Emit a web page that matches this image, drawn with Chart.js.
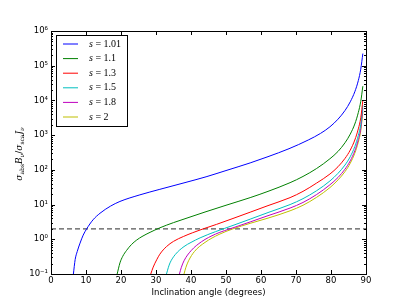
<!DOCTYPE html>
<html>
<head>
<meta charset="utf-8">
<script src="https://cdn.jsdelivr.net/npm/chart.js@4.4.0/dist/chart.umd.min.js"></script>
<style>
  body { margin: 0; background: #fff; }
  #wrap { width: 407px; height: 305px; }
</style>
</head>
<body>
<div id="wrap"><canvas id="grafico" width="407" height="305"></canvas></div>
<script>
// valores (angulo en grados, cociente)
const etiquetasS = ['1.01', '1.1', '1.3', '1.5', '1.8', '2'];

const angulosS101 = [6.4, 6.9, 7.5, 8.3, 9.2, 10.2, 12, 14, 17, 19.7, 25.4, 31.1, 38, 44.3, 50, 56.9, 62, 68, 73.5, 77, 79.7, 82, 84, 85.5, 86.8, 87.8, 88.5, 89.1];
const valoresS101 = [0.1, 0.26, 0.447, 0.776, 1.32, 2.0, 3.63, 5.62, 9.02, 12.3, 19.05, 27.5, 42.2, 63.1, 95.5, 158.5, 240, 407, 724, 1122, 1738, 2884, 5129, 9120, 17780, 37150, 79430, 223900];

const angulosS11 = [18.9, 19.7, 20.5, 21.6, 23, 24.5, 26, 28.3, 31.1, 35, 40, 44, 50, 56.9, 62, 68.3, 72, 75.9, 79.7, 82, 84, 85.5, 86.8, 87.8, 88.5, 89.1];
const valoresS11 = [0.1, 0.209, 0.324, 0.479, 0.708, 0.955, 1.2, 1.585, 2.14, 3.02, 4.47, 6.1, 9.55, 15.85, 24.0, 42.7, 64.6, 109.6, 209, 339, 603, 1072, 2089, 4467, 9333, 25700];

const angulosS13 = [28.5, 29.2, 30.2, 31.1, 33, 35, 37.8, 40.5, 43.5, 47.3, 52, 56.9, 62, 68.3, 72, 75.9, 79.7, 82, 84, 85.5, 86.8, 87.8, 88.5, 89.1];
const valoresS13 = [0.1, 0.158, 0.257, 0.372, 0.617, 0.871, 1.2, 1.55, 2.0, 2.69, 3.98, 6.03, 9.33, 15.85, 24.0, 41.7, 75.9, 123, 214, 371, 724, 1514, 3162, 10000];

const angulosS15 = [33, 33.5, 34, 35.5, 38, 40, 42.6, 47, 52, 56.9, 62, 68.3, 72, 75.9, 79.7, 82, 84, 85.5, 86.8, 87.8, 88.5, 89.1];
const valoresS15 = [0.1, 0.151, 0.209, 0.363, 0.617, 0.813, 1.1, 1.66, 2.51, 3.8, 5.89, 10, 14.8, 25.1, 47.9, 79.4, 138, 240, 468, 977, 2042, 7244];

const angulosS18 = [36.7, 37.2, 38, 40, 43, 47, 52, 56.9, 62, 68.3, 72, 75.9, 79.7, 82, 84, 85.5, 86.8, 87.8, 88.5, 89.1];
const valoresS18 = [0.1, 0.151, 0.24, 0.468, 0.851, 1.41, 2.14, 3.16, 4.79, 7.94, 11.5, 19.5, 37.2, 60.3, 104.7, 182, 355, 741, 1549, 5888];

const angulosS2 = [38, 38.5, 39.3, 41, 44, 48, 52, 56.9, 62, 68.3, 72, 75.9, 79.7, 82, 84, 85.5, 86.8, 87.8, 88.5, 89.1];
const valoresS2 = [0.1, 0.151, 0.24, 0.447, 0.813, 1.38, 2.0, 2.88, 4.07, 6.61, 9.55, 16.2, 30.9, 51.3, 89.1, 155, 302, 631, 1318, 4786];

const umbralAngulos = [0, 90];
const umbralValores = [2, 2];

const xTicks = [0, 10, 20, 30, 40, 50, 60, 70, 80, 90];
const yTicks = [0.1, 1, 10, 100, 1000, 10000, 100000, 1000000];
const yTickLabels = ['10⁻¹', '10⁰', '10¹', '10²', '10³', '10⁴', '10⁵', '10⁶'];

const colores = ['#0000ff', '#008000', '#ff0000', '#00bfbf', '#bf00bf', '#bfbf00'];

function armarSerie(angulos, valores) {
    return angulos.map((a, i) => ({ x: a, y: valores[i] }));
}

const series = [
    [angulosS101, valoresS101],
    [angulosS11, valoresS11],
    [angulosS13, valoresS13],
    [angulosS15, valoresS15],
    [angulosS18, valoresS18],
    [angulosS2, valoresS2]
];

const datasets = series.map((s, i) => ({
    label: 's = ' + etiquetasS[i],
    data: armarSerie(s[0], s[1]),
    borderColor: colores[i],
    borderWidth: 1,
    pointRadius: 0,
    cubicInterpolationMode: 'monotone',
    fill: false
}));

datasets.push({
    label: 'umbral',
    data: armarSerie(umbralAngulos, umbralValores),
    borderColor: '#555555',
    borderWidth: 1.4,
    borderDash: [5, 3],
    pointRadius: 0,
    tension: 0,
    fill: false
});

const fuente = { family: 'DejaVu Sans', size: 8.5 };

// marco, ticks internos, etiqueta del eje y y leyenda
const marco = {
    id: 'marco',
    afterDraw(chart) {
        const ctx = chart.ctx;
        const a = chart.chartArea;
        const xs = chart.scales.x;
        const ys = chart.scales.y;
        ctx.save();
        ctx.strokeStyle = '#000';
        ctx.lineWidth = 1;

        ctx.beginPath();
        xTicks.forEach(v => {
            const px = Math.round(xs.getPixelForValue(v)) + 0.5;
            ctx.moveTo(px, a.bottom); ctx.lineTo(px, a.bottom - 4);
            ctx.moveTo(px, a.top); ctx.lineTo(px, a.top + 4);
        });
        yTicks.forEach(v => {
            const py = Math.round(ys.getPixelForValue(v)) + 0.5;
            ctx.moveTo(a.left, py); ctx.lineTo(a.left + 4, py);
            ctx.moveTo(a.right, py); ctx.lineTo(a.right - 4, py);
        });
        for (let d = -1; d < 6; d++) {
            for (let k = 2; k < 10; k++) {
                const py = Math.round(ys.getPixelForValue(k * Math.pow(10, d))) + 0.5;
                ctx.moveTo(a.left, py); ctx.lineTo(a.left + 2, py);
                ctx.moveTo(a.right, py); ctx.lineTo(a.right - 2, py);
            }
        }
        ctx.stroke();

        ctx.strokeRect(Math.round(a.left) + 0.5, Math.round(a.top) + 0.5,
            Math.round(a.right - a.left), Math.round(a.bottom - a.top));

        // etiqueta eje y
        const piezas = [
            ['σ', false], ['abs', true], ['B', false], ['ν', true], ['/', false, true],
            ['σ', false], ['sca', true], ['J', false], ['ν', true]
        ];
        const fPrin = 'italic 9px "DejaVu Serif"';
        const fSub = '6px "DejaVu Serif"';
        const fSubIt = 'italic 6px "DejaVu Serif"';
        const fRecto = '9px "DejaVu Serif"';
        const fontDe = p => p[1] ? (p[0] === 'ν' ? fSubIt : fSub) : (p[2] ? fRecto : fPrin);
        let total = 0;
        piezas.forEach(p => { ctx.font = fontDe(p); total += ctx.measureText(p[0]).width; });
        ctx.translate(22, 154);
        ctx.rotate(-Math.PI / 2);
        ctx.fillStyle = '#000';
        ctx.textBaseline = 'alphabetic';
        let cx = -total / 2;
        piezas.forEach(p => {
            ctx.font = fontDe(p);
            ctx.fillText(p[0], cx, p[1] ? 2 : 0);
            cx += ctx.measureText(p[0]).width;
        });
        ctx.restore();

        // leyenda
        ctx.save();
        ctx.fillStyle = '#fff';
        ctx.fillRect(56, 35, 71, 91);
        ctx.strokeStyle = '#000';
        ctx.lineWidth = 1;
        ctx.strokeRect(56.5, 35.5, 71, 91);
        etiquetasS.forEach((t, i) => {
            const y = 44 + i * 14.6;
            ctx.strokeStyle = colores[i];
            ctx.beginPath();
            ctx.moveTo(63, y); ctx.lineTo(78, y);
            ctx.stroke();
            ctx.fillStyle = '#000';
            ctx.textBaseline = 'middle';
            ctx.font = 'italic 10px "Liberation Serif"';
            ctx.fillText('s', 89, y);
            const w = ctx.measureText('s').width;
            ctx.font = '10px "Liberation Serif"';
            ctx.fillText(' = ' + t, 89 + w, y);
        });
        ctx.restore();
    }
};

const ctx = document.getElementById('grafico').getContext('2d');
new Chart(ctx, {
    type: 'line',
    data: { datasets: datasets },
    options: {
        responsive: false,
        animation: false,
        devicePixelRatio: 1,
        layout: { padding: { top: 31, right: 41, left: 0, bottom: 0 } },
        plugins: {
            legend: { display: false },
            tooltip: { enabled: false }
        },
        scales: {
            x: {
                type: 'linear',
                min: 0,
                max: 90,
                afterBuildTicks: s => { s.ticks = xTicks.map(v => ({ value: v })); },
                afterFit: s => { s.height = 31; },
                grid: { display: false, drawTicks: false },
                border: { display: false },
                ticks: { padding: 2, color: '#000', font: fuente, maxRotation: 0, callback: v => String(v) },
                title: {
                    display: true,
                    text: 'Inclination angle (degrees)',
                    color: '#000',
                    font: fuente,
                    padding: { top: 0, bottom: 7 }
                }
            },
            y: {
                type: 'logarithmic',
                min: 0.1,
                max: 1000000,
                afterBuildTicks: s => { s.ticks = yTicks.map(v => ({ value: v })); },
                afterFit: s => { s.width = 51; },
                grid: { display: false, drawTicks: false },
                border: { display: false },
                ticks: {
                    padding: 3,
                    color: '#000',
                    font: fuente,
                    callback: v => {
                        const i = yTicks.findIndex(t => Math.abs(t - v) < t * 1e-6);
                        return i >= 0 ? yTickLabels[i] : '';
                    }
                }
            }
        }
    },
    plugins: [marco]
});
</script>
</body>
</html>
